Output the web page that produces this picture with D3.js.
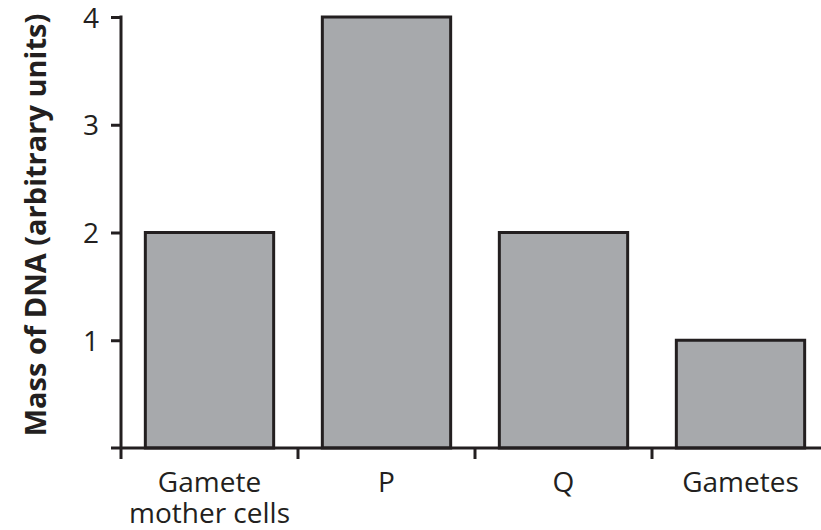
<!DOCTYPE html>
<html><head><meta charset="utf-8">
<script src="https://cdn.jsdelivr.net/npm/d3@7"></script>
<style>body{margin:0;background:#fff}text{font-family:"Open Sans",sans-serif;fill:#231f20}</style>
</head><body><svg id="c" width="821" height="530"></svg>
<script>
const categories = [["Gamete","mother cells"],["P"],["Q"],["Gametes"]];
const values = [2, 4, 2, 1];
const yTicks = [1, 2, 3, 4];
const yLabel = "Mass of DNA (arbitrary units)";

const svg = d3.select("#c");
const ink = "#231f20";
const x = d3.scaleBand().domain(d3.range(categories.length)).range([121, 829]).paddingInner(0.275).paddingOuter(0.1375);
const y = d3.scaleLinear().domain([0, 4]).range([448, 17]);

// bars
svg.selectAll("rect.bar").data(values).join("rect")
  .attr("x", (d,i) => x(i)).attr("width", x.bandwidth())
  .attr("y", d => y(d)).attr("height", d => y(0) - y(d))
  .attr("fill", "#a7a9ac").attr("stroke", ink).attr("stroke-width", 3);

// y axis
const ya = svg.append("g").attr("transform", "translate(121,0)")
  .call(d3.axisLeft(y).tickValues(yTicks).tickFormat(d3.format("d")).tickSize(10).tickPadding(12).tickSizeOuter(0));
ya.select(".domain").attr("stroke", ink).attr("stroke-width", 3).attr("d", `M0,${y(4)-1.5}V${y(0)}`);
ya.selectAll(".tick line").attr("stroke", ink).attr("stroke-width", 3);
ya.selectAll(".tick text").attr("font-size", 28).attr("font-family", '"Open Sans",sans-serif').attr("fill", ink).attr("dy", "0.36em");

// x axis line
svg.append("line").attr("x1", 111).attr("x2", 821).attr("y1", y(0)).attr("y2", y(0))
  .attr("stroke", ink).attr("stroke-width", 3);
// x ticks at band boundaries
const bounds = d3.range(categories.length + 1).map(i => 121 + i * x.step());
svg.selectAll("line.xt").data(bounds).join("line")
  .attr("x1", d => d).attr("x2", d => d).attr("y1", y(0)).attr("y2", y(0) + 11)
  .attr("stroke", ink).attr("stroke-width", 3);

// x labels
categories.forEach((lines, i) => {
  const t = svg.append("text").attr("text-anchor", "middle").attr("font-size", 28)
    .attr("x", x(i) + x.bandwidth() / 2).attr("y", 492);
  lines.forEach((l, j) => t.append("tspan").attr("x", x(i) + x.bandwidth() / 2).attr("dy", j ? 31 : 0).text(l));
});

// y label
svg.append("text").attr("transform", "translate(46,225) rotate(-90)")
  .attr("text-anchor", "middle").attr("font-size", 29).attr("font-weight", "bold").text(yLabel);
</script></body></html>
